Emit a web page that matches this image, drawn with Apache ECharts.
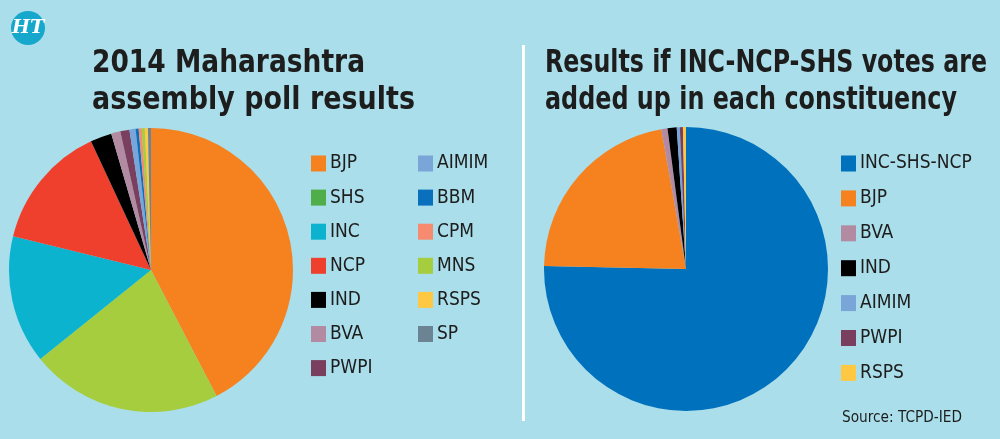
<!DOCTYPE html>
<html>
<head>
<meta charset="utf-8">
<style>
  html, body { margin: 0; padding: 0; background: #aadeea; }
  #chart { width: 1000px; height: 439px; }
</style>
<script src="https://cdn.jsdelivr.net/npm/echarts@6/dist/echarts.min.js"></script>
</head>
<body>
<div id="chart"></div>
<script>
// seats, 2014 results
const partiesLeft = ["BJP", "SHS", "INC", "NCP", "IND", "BVA", "PWPI", "AIMIM", "BBM", "CPM", "MNS", "RSPS", "SP"];
const seatsLeft = [122, 63, 42, 41, 7, 3, 3, 2, 1, 1, 1, 1, 1];

// seats if alliance votes are added up
const partiesRight = ["INC-SHS-NCP", "BJP", "BVA", "IND", "AIMIM", "PWPI", "RSPS"];
const seatsRight = [217, 63, 2, 3, 1, 1, 1];

const colors = {
  "BJP": "#f5821f",
  "SHS": "#a6cd3d",      // slice is drawn light green in the original
  "INC": "#0bb3cf",
  "NCP": "#ee402d",
  "IND": "#000000",
  "BVA": "#b28ba3",
  "PWPI": "#7a3f5f",
  "AIMIM": "#7aa5d9",
  "BBM": "#0a6fbc",
  "CPM": "#f68b6f",
  "MNS": "#a6cd3d",
  "RSPS": "#fec843",
  "SP": "#6b8393",
  "INC-SHS-NCP": "#0071bc"
};
const legendColors = Object.assign({}, colors, { "SHS": "#4fae4a" });

const FONT = "'Liberation Sans Narrow', 'DejaVu Sans Condensed', 'Liberation Sans', sans-serif";
const TEXT = "#1d1d1d";

// the original uses a condensed face; squeeze text to the width it takes there
const measureCtx = document.createElement("canvas").getContext("2d");
function fitScale(text, font, width) {
  measureCtx.font = font;
  return width / measureCtx.measureText(text).width;
}

function legendData(names) {
  return names.map(n => ({ name: n, itemStyle: { color: legendColors[n] } }));
}

function legendBlock(names, left, top, gap) {
  return {
    orient: "vertical",
    left: left,
    top: top,
    padding: 0,
    itemWidth: 15,
    itemHeight: 16,
    itemGap: gap,
    icon: "rect",
    selectedMode: false,
    data: legendData(names),
    textStyle: { fontFamily: FONT, fontSize: 19, color: TEXT, lineHeight: 16, padding: [0, 0, 0, -1] }
  };
}

function pieData(names, values) {
  return names.map((n, i) => ({ name: n, value: values[i], itemStyle: { color: colors[n] } }));
}

function fittedText(text, x, y, width, font) {
  return {
    type: "text", x: x, y: y, scaleX: fitScale(text, font, width),
    style: { text: text, fill: TEXT, font: font, verticalAlign: "middle" }
  };
}

const TITLE_FONT = "bold 32px " + FONT;

const chart = echarts.init(document.getElementById("chart"));
chart.setOption({
  backgroundColor: "#aadeea",
  animation: false,
  legend: [
    legendBlock(partiesLeft.slice(0, 7), 311, 154, 15.1),
    legendBlock(partiesLeft.slice(7), 418, 154, 15.1),
    legendBlock(partiesRight, 841, 154, 15.9)
  ],
  series: [
    {
      type: "pie",
      center: [151, 270],
      radius: 142,
      startAngle: 90,
      clockwise: true,
      label: { show: false },
      labelLine: { show: false },
      emphasis: { disabled: true },
      data: pieData(partiesLeft, seatsLeft)
    },
    {
      type: "pie",
      center: [686, 269],
      radius: 142,
      startAngle: 90,
      clockwise: true,
      label: { show: false },
      labelLine: { show: false },
      emphasis: { disabled: true },
      data: pieData(partiesRight, seatsRight)
    }
  ],
  graphic: [
    { type: "circle", shape: { cx: 28, cy: 28, r: 17 }, style: { fill: "#16a8cc" } },
    {
      type: "text", x: 28, y: 28,
      style: { text: "HT", fill: "#ffffff", font: "italic bold 19px 'DejaVu Serif', serif", align: "center", verticalAlign: "middle" }
    },
    { type: "rect", shape: { x: 522, y: 45, width: 3, height: 376 }, style: { fill: "#ffffff" } },
    fittedText("2014 Maharashtra", 92, 64, 273, TITLE_FONT),
    fittedText("assembly poll results", 92, 101, 323, TITLE_FONT),
    fittedText("Results if INC-NCP-SHS votes are", 545, 64, 442, TITLE_FONT),
    fittedText("added up in each constituency", 545, 101, 412, TITLE_FONT),
    fittedText("Source: TCPD-IED", 842, 418, 120, "16px " + FONT)
  ]
});
</script>
</body>
</html>
